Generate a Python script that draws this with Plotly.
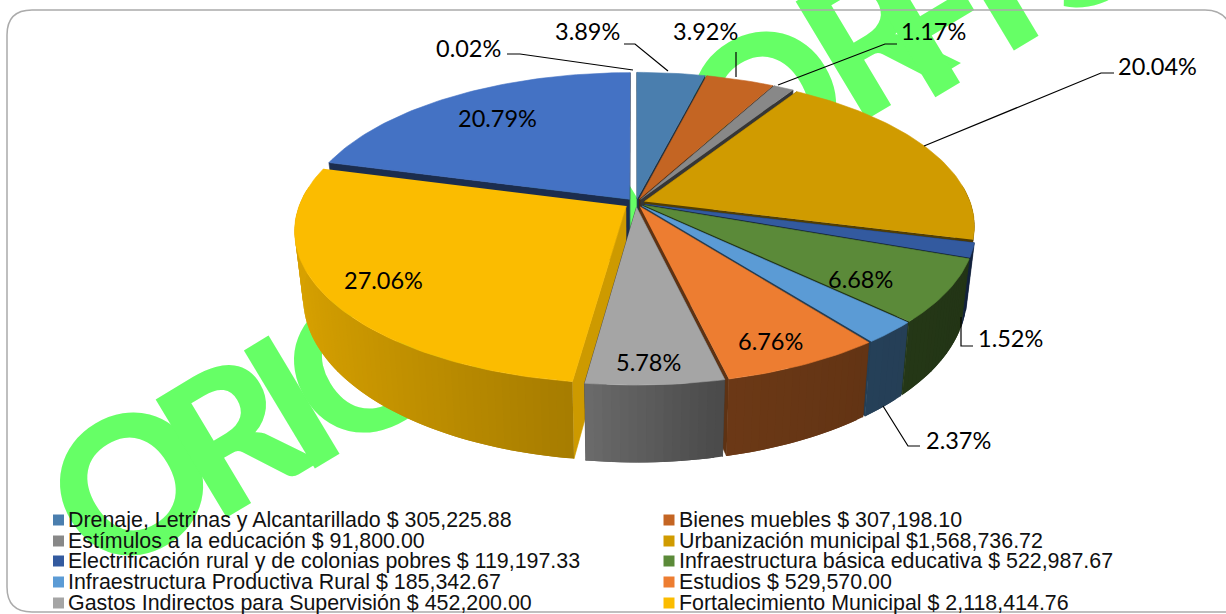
import numpy as np
import plotly.graph_objects as go

# ---------- data ----------
legend_names = ["Drenaje, Letrinas y Alcantarillado $ 305,225.88", "Bienes muebles $ 307,198.10",
                "Estímulos a la educación $ 91,800.00", "Urbanización municipal $1,568,736.72",
                "Electrificación rural y de colonias pobres $ 119,197.33", "Infraestructura básica educativa $ 522,987.67",
                "Infraestructura Productiva Rural $ 185,342.67", "Estudios $ 529,570.00",
                "Gastos Indirectos para Supervisión $ 452,200.00", "Fortalecimiento Municipal $ 2,118,414.76"]
shares = [3.89, 3.92, 1.17, 20.04, 1.52, 6.68, 2.37, 6.76, 5.78, 27.06, 20.79, 0.02]
colors = ["#4A7EAE", "#C46523", "#888888", "#D09B00", "#335A9F", "#5B8A39",
          "#5B9BD5", "#ED7D31", "#A5A5A5", "#FBBC00", "#4472C4", "#FFFFFF"]
pct_text = ["3.89%", "3.92%", "1.17%", "20.04%", "1.52%", "6.68%", "2.37%", "6.76%", "5.78%", "27.06%", "20.79%", "0.02%"]
pct_x = [587, 705, 933, 1157, 1010, 860, 958, 770, 648, 383, 497, 468]
pct_y = [31, 31, 31, 66, 338, 279, 440, 341, 362, 280, 118, 48]
explode = [0.028, 0.028, 0.028, 0.028, 0.028, 0.028, 0.028, 0.028, 0.028, 0.036, 0.032, 0.028]
leaders = [([507, 520, 633], [54, 54, 70]), ([624, 635, 668], [44, 44, 71]), ([736, 736], [52, 77]),
           ([897, 885, 778], [44, 44, 85]), ([1114, 1101, 924], [73, 73, 146]),
           ([973, 961, 961], [346, 346, 317]), ([920, 908, 883], [446, 446, 406])]
wm_letters = ["O", "R", "I", "G", "I", "N", "A", "L", "O", "R", "F", "I", "S"]
wm_x = [128, 228, 288, 355, 420, 490, 570, 640, 761, 868, 930, 987, 1075]
wm_y = [478, 428, 396, 360, 322, 280, 232, 190, 97, 30, 12, -22, -70]

# ---------- projection ----------
CX, CY, RX, A, K = 636, 203, 326, 148, 0.16
DEPTH = 64


def proj(u, v):
    s = 1 + K * v
    return CX + RX * u / s, CY - A * v / s


def lower(x, y, v):
    return CX + (x - CX) * 0.975, y + DEPTH - 13 * v


def darken(hex_color, f):
    r, g, b = (int(hex_color[i:i + 2], 16) for i in (1, 3, 5))
    return f"rgb({int(r * f)},{int(g * f)},{int(b * f)})"


def poly(xs, ys, color, lw=0.6):
    return go.Scatter(x=list(xs), y=list(ys), mode="lines", fill="toself", fillcolor=color,
                      line=dict(color=color, width=lw), hoverinfo="skip", showlegend=False)


edges = np.cumsum([0] + shares) / sum(shares) * 2 * np.pi
order = sorted(range(len(shares)), key=lambda i: -np.cos((edges[i] + edges[i + 1]) / 2))
fig = go.Figure()

for i in order:
    if shares[i] < 0.1:
        continue
    a0, a1 = edges[i], edges[i + 1]
    mid = (a0 + a1) / 2
    ou, ov = explode[i] * np.sin(mid), explode[i] * np.cos(mid)
    th = np.linspace(a0, a1, max(4, int(shares[i] * 3)))
    us, vs = ou + np.sin(th), ov + np.cos(th)
    tx, ty = proj(us, vs)
    ax, ay = proj(np.array([ou]), np.array([ov]))
    bx, by = lower(tx, ty, vs)
    abx, aby = lower(ax, ay, np.array([ov]))
    c = colors[i]
    # radial faces (the large front slice only shows its lit start face)
    start_shade = 0.82 if i == 9 else 0.4
    fig.add_trace(poly([ax[0], tx[0], bx[0], abx[0]], [ay[0], ty[0], by[0], aby[0]], darken(c, start_shade)))
    if i != 9:
        fig.add_trace(poly([ax[0], tx[-1], bx[-1], abx[0]], [ay[0], ty[-1], by[-1], aby[0]], darken(c, 0.4)))
    # outer wall, front-facing part only; each band overlaps the next to hide seams
    n = len(th) - 1
    for j in range(n):
        if np.cos((th[j] + th[j + 1]) / 2) > 0.12:
            continue
        k = min(j + 2, n)
        shade = np.interp((us[j] + us[j + 1]) / 2, [-1, -0.15, 0.2, 1], [0.86, 0.66, 0.46, 0.38])
        fig.add_trace(poly([tx[j], *tx[j + 1:k + 1], *bx[j + 1:k + 1][::-1], bx[j]],
                           [ty[j], *ty[j + 1:k + 1], *by[j + 1:k + 1][::-1], by[j]], darken(c, shade), 0))
    # top face
    fig.add_trace(poly([ax[0], *tx], [ay[0], *ty], c))

for lx, ly in leaders:
    fig.add_trace(go.Scatter(x=lx, y=ly, mode="lines", line=dict(color="black", width=1.2),
                             hoverinfo="skip", showlegend=False))

# legend swatches + text
rows_y = [520, 541, 561, 582, 603]
for n, name in enumerate(legend_names):
    col, row = n % 2, n // 2
    sx, tx_ = (58.5, 65.5) if col == 0 else (669, 676.5)
    fig.add_trace(go.Scatter(x=[sx], y=[rows_y[row]], mode="markers",
                             marker=dict(symbol="square", size=11, color=colors[n], line=dict(width=0)),
                             hoverinfo="skip", showlegend=False))
    fig.add_annotation(x=tx_, y=rows_y[row], text=name, showarrow=False, xanchor="left", yanchor="middle",
                       font=dict(family="Liberation Sans", size=21.4, color="#111"))

for t, x, y in zip(pct_text, pct_x, pct_y):
    fig.add_annotation(x=x, y=y, text=t, showarrow=False, xanchor="center", yanchor="middle",
                       font=dict(family="Lato", size=23.5, color="black"))

shapes = []
for ch, x, y in zip(wm_letters, wm_x, wm_y):
    shapes.append(dict(type="rect", xref="x", yref="y", x0=x - 5, x1=x + 5, y0=y - 5, y1=y + 5, layer="below",
                       line=dict(width=0), fillcolor="rgba(0,0,0,0)",
                       label=dict(text=ch, textangle=-31, textposition="middle center",
                                  font=dict(family="Lato", size=190, color="#66FF66", weight=900))))
shapes.append(dict(type="path", xref="x", yref="y", layer="below", line=dict(color="#ABABAB", width=1.5),
                   path="M 32 10 L 1205 10 Q 1226 10 1232 30 L 1232 612 L 32 612 Q 7 612 7 587 L 7 35 Q 7 10 32 10 Z"))

fig.update_layout(width=1226, height=614, margin=dict(l=0, r=0, t=0, b=0), paper_bgcolor="white",
                  plot_bgcolor="rgba(0,0,0,0)", showlegend=False, shapes=shapes,
                  xaxis=dict(range=[0, 1226], visible=False, fixedrange=True),
                  yaxis=dict(range=[614, 0], visible=False, fixedrange=True))
fig.write_html("out.html", config=dict(displayModeBar=False),
               post_script="document.body.style.margin='0';document.documentElement.style.overflow='hidden';")
